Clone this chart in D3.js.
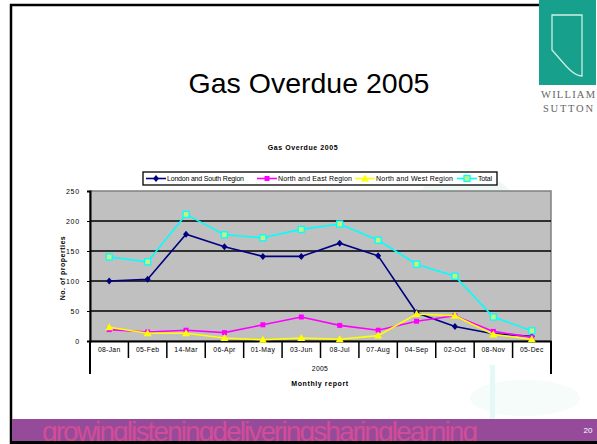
<!DOCTYPE html>
<html><head><meta charset="utf-8">
<script src="https://cdn.jsdelivr.net/npm/d3@7"></script>
<style>
body{margin:0;background:#fff;}
svg{display:block;font-family:Arial,"Liberation Sans",sans-serif;}
</style></head>
<body><svg id="c" width="597" height="444"></svg>
<script>
const categories = ["08-Jan","05-Feb","14-Mar","06-Apr","01-May","03-Jun","08-Jul","07-Aug","04-Sep","02-Oct","08-Nov","05-Dec"];
const londonSouth = [100,103,178,157,141,141,163,142,47,24,12,8];
const northEast = [19,15,18,14,27,40,26,18,33,42,16,6];
const northWest = [23,13,13,5,2,5,3,9,45,42,11,3];
const total = [140,132,211,177,172,186,195,168,128,108,40,17];
const yTicks = [0,50,100,150,200,250];
const seriesNames = ["London and South Region","North and East Region","North and West Region","Total"];

const svg = d3.select("#c");

// faint watermark shapes
const wm = svg.append("g").attr("fill","#eef9f6");
wm.append("ellipse").attr("cx",465).attr("cy",200).attr("rx",48).attr("ry",26);
wm.append("ellipse").attr("cx",525).attr("cy",398).attr("rx",55).attr("ry",18).attr("opacity",0.5);
wm.append("rect").attr("x",490).attr("y",365).attr("width",5).attr("height",54).attr("fill","#e4f8f7");

// slide border
svg.append("line").attr("x1",10).attr("x2",539).attr("y1",5).attr("y2",5).attr("stroke","#000").attr("stroke-width",2.5);
svg.append("line").attr("x1",11).attr("x2",11).attr("y1",4).attr("y2",444).attr("stroke","#000").attr("stroke-width",2.5);

// logo
svg.append("rect").attr("x",539).attr("y",0).attr("width",57).attr("height",85).attr("fill","#17a08c");
svg.append("path").attr("d","M552,15 L582,15 L582,76 Q575,76 566,66 L552,50 Z").attr("fill","none").attr("stroke","#cfeee8").attr("stroke-width",1.3);
svg.append("text").attr("x",568).attr("y",98).attr("text-anchor","middle").attr("font-family","Liberation Serif,serif").attr("font-size",10.5).attr("fill","#666").attr("textLength",54).text("WILLIAM");
svg.append("text").attr("x",568).attr("y",112).attr("text-anchor","middle").attr("font-family","Liberation Serif,serif").attr("font-size",10.5).attr("fill","#666").attr("textLength",50).text("SUTTON");

// main title
svg.append("text").attr("x",309).attr("y",93).attr("text-anchor","middle").attr("font-size",28.5).attr("fill","#000").text("Gas Overdue 2005");

// chart title
svg.append("text").attr("x",303).attr("y",150).attr("text-anchor","middle").attr("font-size",7).attr("font-weight","bold").attr("letter-spacing",0.6).text("Gas Overdue 2005");

const x = d3.scaleBand().domain(categories).range([90,551]);
const y = d3.scaleLinear().domain([0,250]).range([341,191]);
const xc = c => x(c) + x.bandwidth()/2;

// plot area
svg.append("rect").attr("x",90).attr("y",y(250)).attr("width",461).attr("height",y(0)-y(250)).attr("fill","#c0c0c0").attr("stroke","#808080").attr("stroke-width",1.5);
svg.append("g").selectAll("line").data(yTicks.filter(d=>d>0 && d<250)).join("line")
  .attr("x1",90).attr("x2",551).attr("y1",d=>y(d)).attr("y2",d=>y(d)).attr("stroke","#000").attr("stroke-width",1.5);

// y axis
const ya = svg.append("g").attr("transform","translate(90,0)").call(d3.axisLeft(y).tickValues(yTicks).tickSize(3).tickFormat(d3.format("d")));
ya.select(".domain").attr("stroke","#000").attr("stroke-width",2);
ya.selectAll(".tick line").attr("stroke","#000");
ya.selectAll("text").attr("font-size",7).attr("letter-spacing",0.8).attr("fill","#000").attr("dx",-4).attr("font-family","Arial,Liberation Sans,sans-serif");

// x axis
const xa = svg.append("g").attr("transform","translate(0,341)").call(d3.axisBottom(x).tickSize(0));
xa.select(".domain").attr("stroke","#000").attr("stroke-width",2);
xa.selectAll("text").attr("font-size",6.8).attr("letter-spacing",0.3).attr("fill","#000").attr("dy",8).attr("font-family","Arial,Liberation Sans,sans-serif");
// category separators
svg.append("g").selectAll("line").data(categories.slice(1)).join("line")
  .attr("x1",d=>x(d)).attr("x2",d=>x(d)).attr("y1",341).attr("y2",358).attr("stroke","#000").attr("stroke-width",1.5);
[90,551].forEach(px=>svg.append("line").attr("x1",px).attr("x2",px).attr("y1",341).attr("y2",374).attr("stroke","#000").attr("stroke-width",2));
svg.append("text").attr("x",320).attr("y",371).attr("text-anchor","middle").attr("font-size",6.8).attr("letter-spacing",0.3).text("2005");
svg.append("text").attr("x",320).attr("y",386).attr("text-anchor","middle").attr("font-size",7).attr("font-weight","bold").attr("letter-spacing",0.6).text("Monthly report");
svg.append("text").attr("transform","translate(65,268) rotate(-90)").attr("text-anchor","middle").attr("font-size",7).attr("font-weight","bold").attr("letter-spacing",0.5).text("No. of properties");

// series
const series = [
  {name:seriesNames[0], values:londonSouth, color:"#000080", marker:"diamond"},
  {name:seriesNames[1], values:northEast, color:"#ff00ff", marker:"square"},
  {name:seriesNames[2], values:northWest, color:"#ffff00", marker:"triangle"},
  {name:seriesNames[3], values:total, color:"#00ffff", marker:"box"}
];
const line = d3.line().x((d,i)=>xc(categories[i])).y(d=>y(d));
function drawMarker(g, s, px, py){
  if(s.marker==="diamond"){
    g.append("path").attr("d",`M${px},${py-3.5}L${px+3},${py}L${px},${py+3.5}L${px-3},${py}Z`).attr("fill",s.color);
  } else if(s.marker==="square"){
    g.append("rect").attr("x",px-2.5).attr("y",py-2.5).attr("width",5).attr("height",5).attr("fill",s.color);
  } else if(s.marker==="triangle"){
    g.append("path").attr("d",`M${px},${py-4}L${px+4},${py+3}L${px-4},${py+3}Z`).attr("fill",s.color);
  } else {
    g.append("rect").attr("x",px-3).attr("y",py-3).attr("width",6).attr("height",6).attr("fill","#c8f080").attr("stroke",s.color).attr("stroke-width",1.3);
  }
}
series.forEach(s=>{
  const g = svg.append("g");
  g.append("path").attr("d",line(s.values)).attr("fill","none").attr("stroke",s.color).attr("stroke-width",1.6);
  s.values.forEach((v,i)=>drawMarker(g,s,xc(categories[i]),y(v)));
});

// legend
svg.append("rect").attr("x",143).attr("y",172).attr("width",354).attr("height",13).attr("fill","#fff").attr("stroke","#000").attr("stroke-width",1.3);
const legLine = [146,257,355,457];
const legText = [167,278,376,478];
const legLen = [77,74,77,14];
series.forEach((s,i)=>{
  const g = svg.append("g");
  g.append("line").attr("x1",legLine[i]).attr("x2",legLine[i]+20).attr("y1",178.5).attr("y2",178.5).attr("stroke",s.color).attr("stroke-width",1.6);
  drawMarker(g,s,legLine[i]+10,178.5);
  g.append("text").attr("x",legText[i]).attr("y",181.2).attr("font-size",7).attr("textLength",legLen[i]).attr("lengthAdjust","spacing").text(s.name);
});

// footer bar
svg.append("rect").attr("x",12).attr("y",419).attr("width",585).attr("height",22).attr("fill","#964b9a");
svg.append("clipPath").attr("id","fc").append("rect").attr("x",12).attr("y",419).attr("width",585).attr("height",22);
svg.append("text").attr("clip-path","url(#fc)").attr("x",42).attr("y",441).attr("font-size",28).attr("fill","#d24c96").attr("font-family","Liberation Sans,Arial,sans-serif").attr("textLength",436).text("growinglisteningdeliveringsharinglearning");
svg.append("text").attr("x",588).attr("y",433).attr("text-anchor","middle").attr("font-size",8).attr("fill","#fff").text("20");
svg.append("line").attr("x1",10).attr("x2",597).attr("y1",442.5).attr("y2",442.5).attr("stroke","#000").attr("stroke-width",3);
</script></body></html>
